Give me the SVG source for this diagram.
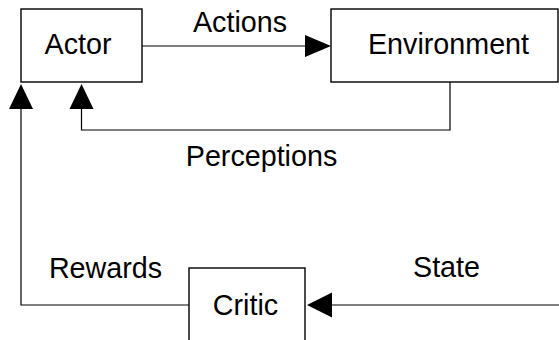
<svg xmlns="http://www.w3.org/2000/svg" width="559" height="340" viewBox="0 0 559 340">
<style>
.box{fill:#fff;stroke:#000;stroke-width:1.4}
.ln{fill:none;stroke:#000;stroke-width:1.2}
.ah{fill:#000;stroke:none}
text{font-family:"Liberation Sans",Arial,sans-serif;font-size:28.7px;fill:#000;text-anchor:middle}
</style>
<rect width="559" height="340" fill="#fff"/>
<g id="connectors">
<path class="ln" d="M142,46 H306"/>
<polygon class="ah" points="331,46 305,35 305,57"/>
<path class="ln" d="M450,82 V130 H81.5 V108"/>
<polygon class="ah" points="81.5,84 69.5,109 93.5,109"/>
<path class="ln" d="M189,305 H21 V108"/>
<polygon class="ah" points="21,84 9,109 33,109"/>
<path class="ln" d="M559,305 H330"/>
<polygon class="ah" points="307,305 332,292.5 332,317.5"/>
<text x="240" y="32">Actions</text>
<text x="261.5" y="166">Perceptions</text>
<text x="105.5" y="278">Rewards</text>
<text x="446.5" y="277">State</text>
</g>
<g id="actor">
<rect class="box" x="21" y="9" width="121" height="73"/>
<text x="78" y="54">Actor</text>
</g>
<g id="environment">
<rect class="box" x="331" y="9" width="227" height="73"/>
<text x="448.5" y="54">Environment</text>
</g>
<g id="critic">
<rect class="box" x="189" y="268" width="116" height="80"/>
<text x="245.5" y="315">Critic</text>
</g>
</svg>
